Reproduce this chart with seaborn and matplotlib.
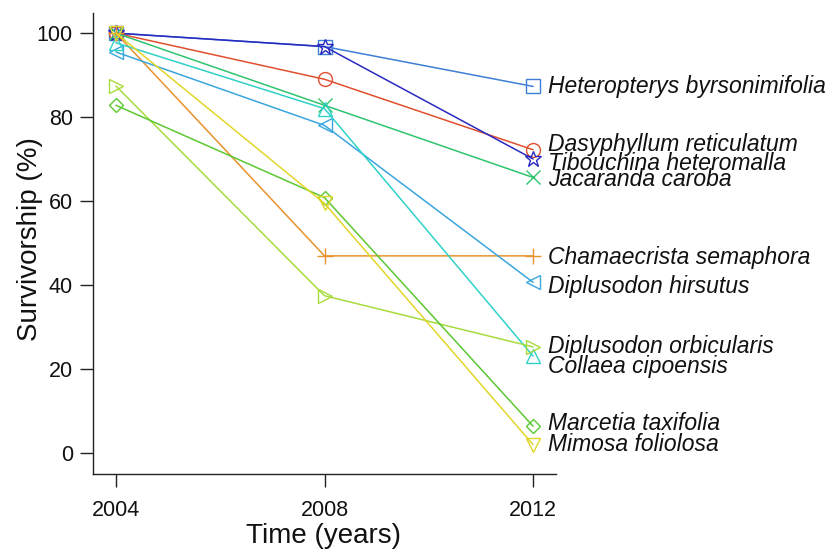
import matplotlib
matplotlib.use("Agg")
import matplotlib.pyplot as plt
import seaborn as sns
import pandas as pd

years = [2004, 2008, 2012]

species = [
    "Heteropterys byrsonimifolia",
    "Dasyphyllum reticulatum",
    "Tibouchina heteromalla",
    "Jacaranda caroba",
    "Chamaecrista semaphora",
    "Diplusodon hirsutus",
    "Collaea cipoensis",
    "Diplusodon orbicularis",
    "Marcetia taxifolia",
    "Mimosa foliolosa",
]

heteropterys = [100, 96.8, 87.3]
dasyphyllum = [100, 89.0, 72.2]
tibouchina = [100, 96.8, 70.0]
jacaranda = [100, 82.8, 65.6]
chamaecrista = [100, 46.9, 46.9]
dipl_hirsutus = [95.5, 78.0, 40.6]
collaea = [97.7, 82.0, 23.0]
dipl_orbicularis = [87.4, 37.4, 25.2]
marcetia = [82.8, 60.8, 6.3]
mimosa = [100, 59.4, 1.9]

values = [heteropterys, dasyphyllum, tibouchina, jacaranda, chamaecrista,
          dipl_hirsutus, collaea, dipl_orbicularis, marcetia, mimosa]

colors = ["#3d7fd6", "#e0502e", "#2a2ac0", "#2fc46e", "#e8922c",
          "#3aa6de", "#30d2c8", "#a8dc3c", "#5cc832", "#e2d62a"]
markers = ["s", "o", "*", "x", "+", "<", "^", ">", "D", "v"]
sizes = [10, 10, 12, 10, 12, 10, 10, 10, 7.5, 10]
# vertical nudges (points) for the end labels so neighbours stay readable
label_nudge = [0, 3.5, -3, -1.5, -1, -3, -7.5, 0.5, 2, 0]

rows = []
for name, vals in zip(species, values):
    for yr, v in zip(years, vals):
        rows.append({"species": name, "year": yr, "survival": v})
df = pd.DataFrame(rows)

sns.set_style("ticks")
plt.rcParams["font.family"] = ["Liberation Sans", "DejaVu Sans"]

fig = plt.figure(figsize=(8.37, 5.52), dpi=100)
ax = fig.add_axes([93 / 837, 1 - 474 / 552, (556 - 93) / 837, (474 - 13) / 552])

for i, name in enumerate(species):
    sub = df[df["species"] == name]
    sns.lineplot(data=sub, x="year", y="survival", ax=ax, color=colors[i],
                 marker=markers[i], markersize=sizes[i], markerfacecolor="none",
                 markeredgecolor=colors[i], markeredgewidth=1.0, linewidth=1.1,
                 legend=False, estimator=None, errorbar=None)
    ax.annotate(name, xy=(years[-1], values[i][-1]), xytext=(11, label_nudge[i]),
                textcoords="offset points", ha="left", va="center",
                fontsize=16.5, fontstyle="italic", color="#111111",
                annotation_clip=False)

ax.set_xlim(2003.56, 2012.44)
ax.set_ylim(-5.1, 104.8)
ax.set_xticks(years)
ax.set_yticks([0, 20, 40, 60, 80, 100])
ax.tick_params(axis="both", direction="out", length=9.5, width=1.0,
               labelsize=15.5, color="#222222", labelcolor="#111111", pad=5)
ax.tick_params(axis="x", pad=9)
for side in ("top", "right"):
    ax.spines[side].set_visible(False)
for side in ("left", "bottom"):
    ax.spines[side].set_color("#222222")
    ax.spines[side].set_linewidth(1.0)

ax.set_xlabel("Time (years)", fontsize=20, color="#111111", va="center", ha="center")
ax.set_ylabel("Survivorship (%)", fontsize=20, color="#111111", va="center", ha="center")
ax.xaxis.set_label_coords(0.497, -0.135)
ax.yaxis.set_label_coords(-0.136, 0.51)

fig.savefig("out.png", dpi=100)
